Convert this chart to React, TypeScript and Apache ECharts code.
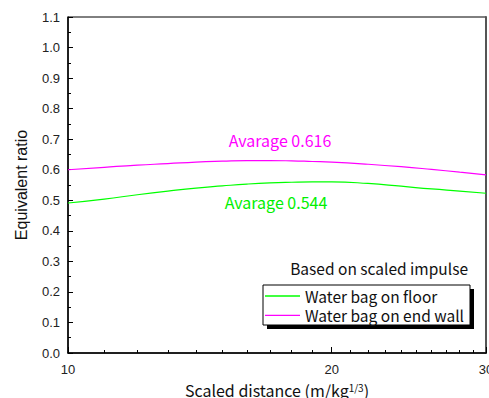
import React, { useEffect, useRef } from "react";
import * as echarts from "echarts";

const distances = [10, 11, 12, 13, 14, 15, 16, 17, 18, 19, 20, 22, 24, 26, 28, 30];
const floorRatio = [0.491, 0.504, 0.518, 0.530, 0.540, 0.547, 0.553, 0.557, 0.559, 0.560, 0.560, 0.555, 0.546, 0.537, 0.530, 0.523];
const wallRatio = [0.600, 0.608, 0.615, 0.620, 0.625, 0.628, 0.630, 0.630, 0.629, 0.627, 0.625, 0.618, 0.610, 0.601, 0.592, 0.583];
const majorXTicks = [10, 20, 30];
const minorXTicks = [11, 12, 13, 14, 15, 16, 17, 18, 19, 21, 22, 23, 24, 25, 26, 27, 28, 29];
const seriesNames = ["Water bag on floor", "Water bag on end wall"];
const annotations = ["Avarage 0.616", "Avarage 0.544"];
const noteText = "Based on scaled impulse";

const GOTHIC = '"Noto Sans CJK JP", "Noto Sans", sans-serif';
const SANS = '"Liberation Sans", Arial, sans-serif';

export default function App() {
  const ref = useRef<HTMLDivElement>(null);
  useEffect(() => {
    if (!ref.current) return;
    const chart = echarts.init(ref.current, null, { renderer: "svg" });
    const baseX = {
      type: "log",
      logBase: 10,
      min: 10,
      max: 30,
      position: "bottom",
      splitLine: { show: false },
      minorTick: { show: false },
    };
    chart.setOption({
      animation: false,
      backgroundColor: "#fff",
      grid: {
        left: 68,
        right: 3,
        top: 17,
        bottom: 45,
        show: true,
        borderColor: "#000",
        borderWidth: 1,
        outerBoundsMode: "none",
        containLabel: false,
      },
      xAxis: [
        {
          ...baseX,
          name: "{a|Scaled distance (m/kg}{s|1/3}{a|)}",
          nameLocation: "middle",
          nameGap: 29,
          nameTextStyle: {
            rich: {
              a: { fontFamily: GOTHIC, fontSize: 16, color: "#111" },
              s: { fontFamily: GOTHIC, fontSize: 10, color: "#111", verticalAlign: "top" },
            },
          },
          axisLine: { show: true, lineStyle: { color: "#000", width: 1.5 } },
          axisTick: { show: true, inside: true, length: 6, customValues: majorXTicks, lineStyle: { color: "#000" } },
          axisLabel: {
            customValues: majorXTicks,
            margin: 10,
            fontFamily: SANS,
            fontSize: 13,
            color: "#222",
            formatter: (v: number) => String(Math.round(v)),
          },
        },
        {
          ...baseX,
          axisLine: { show: false },
          axisTick: { show: true, inside: true, length: 3, customValues: minorXTicks, lineStyle: { color: "#000" } },
          axisLabel: { show: false },
        },
      ],
      yAxis: [
        {
          type: "value",
          min: 0,
          max: 1.1,
          interval: 0.1,
          name: "Equivalent ratio",
          nameLocation: "middle",
          nameGap: 39,
          nameTextStyle: { fontFamily: SANS, fontSize: 16, color: "#111" },
          splitLine: { show: false },
          axisLine: { show: true, lineStyle: { color: "#000", width: 1.5 } },
          axisTick: { show: true, inside: true, length: 5, lineStyle: { color: "#000" } },
          minorTick: { show: true, splitNumber: 2, length: 3, lineStyle: { color: "#000" } },
          axisLabel: {
            margin: 8,
            fontFamily: SANS,
            fontSize: 13,
            color: "#222",
            formatter: (v: number) => v.toFixed(1),
          },
        },
        {
          type: "value",
          min: 0,
          max: 1.1,
          position: "right",
          splitLine: { show: false },
          axisLine: { show: true, lineStyle: { color: "#555", width: 2 } },
          axisTick: { show: false },
          axisLabel: { show: false },
        },
      ],
      legend: {
        orient: "vertical",
        left: 265,
        top: 288,
        padding: 0,
        icon: "rect",
        itemWidth: 35,
        itemHeight: 1.3,
        itemGap: 3.3,
        data: seriesNames,
        textStyle: { fontFamily: GOTHIC, fontSize: 15.5, lineHeight: 16, color: "#111" },
        z: 10,
      },
      graphic: [
        { type: "rect", z: 5, shape: { x: 267, y: 289, width: 207, height: 40 }, style: { fill: "#000" } },
        { type: "rect", z: 6, shape: { x: 263, y: 285, width: 207, height: 40 }, style: { fill: "#fff", stroke: "#000", lineWidth: 1 } },
        {
          type: "text",
          z: 6,
          x: 468,
          y: 268,
          style: { text: noteText, fill: "#111", font: `15.5px ${GOTHIC}`, align: "right", verticalAlign: "middle" },
        },
        {
          type: "text",
          z: 6,
          x: 280,
          y: 140,
          style: { text: annotations[0], fill: "#ff00ff", font: `16px ${GOTHIC}`, align: "center", verticalAlign: "middle" },
        },
        {
          type: "text",
          z: 6,
          x: 276,
          y: 202,
          style: { text: annotations[1], fill: "#00f000", font: `16px ${GOTHIC}`, align: "center", verticalAlign: "middle" },
        },
      ],
      series: [
        {
          name: seriesNames[0],
          type: "line",
          xAxisIndex: 0,
          yAxisIndex: 0,
          smooth: true,
          symbol: "none",
          lineStyle: { color: "#00ff00", width: 1.2 },
          itemStyle: { color: "#00ff00" },
          data: distances.map((d, i) => [d, floorRatio[i]]),
        },
        {
          name: seriesNames[1],
          type: "line",
          xAxisIndex: 0,
          yAxisIndex: 0,
          smooth: true,
          symbol: "none",
          lineStyle: { color: "#ff00ff", width: 1.2 },
          itemStyle: { color: "#ff00ff" },
          data: distances.map((d, i) => [d, wallRatio[i]]),
        },
      ],
    });
    return () => chart.dispose();
  }, []);
  return <div ref={ref} style={{ width: 489, height: 398, position: "absolute", left: 0, top: 0 }} />;
}
